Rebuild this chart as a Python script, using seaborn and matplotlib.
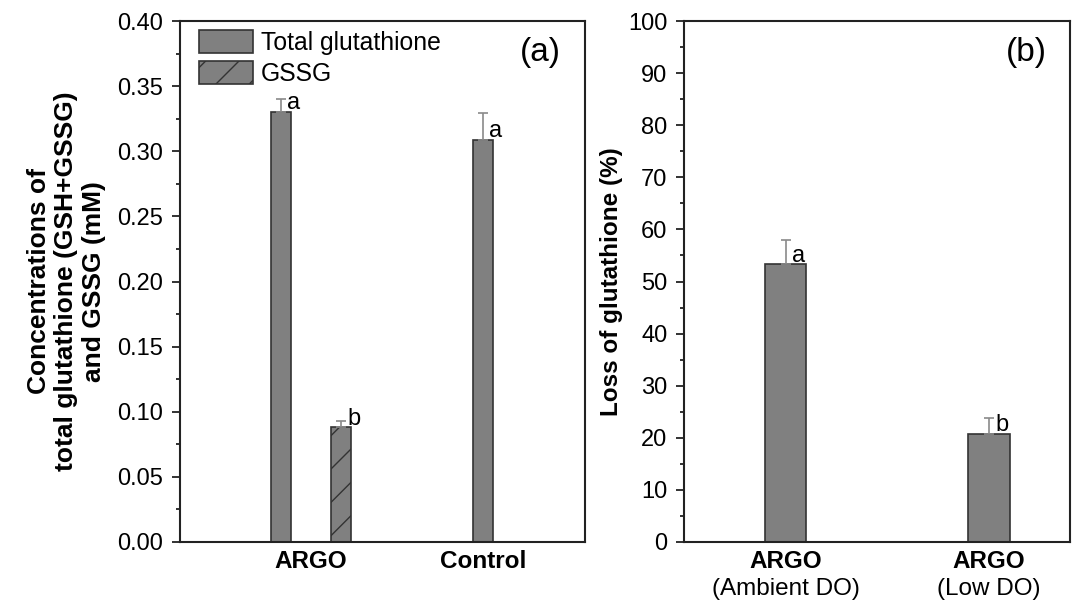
import numpy as np
import pandas as pd
import matplotlib
matplotlib.use("Agg")
import matplotlib.pyplot as plt
import matplotlib.patches as mpatches
import matplotlib.transforms as mtransforms
from matplotlib.ticker import MultipleLocator
import seaborn as sns

# ---------------- data ----------------
groups_a = ["ARGO", "Control"]
series_a = ["Total glutathione", "GSSG"]
total_a = [0.330, 0.309]
total_err_a = [0.010, 0.020]
gssg_groups_a = ["ARGO"]
gssg_a = [0.088]
gssg_err_a = [0.005]
letters_total_a = ["a", "a"]
letters_gssg_a = ["b"]

groups_b = ["ARGO\n(Ambient DO)", "ARGO\n(Low DO)"]
loss_b = [53.3, 20.8]
loss_err_b = [4.6, 3.0]
letters_b = ["a", "b"]

# ---------------- style ----------------
sns.set_style("ticks")
plt.rcParams["font.family"] = ["Liberation Sans", "DejaVu Sans"]
plt.rcParams["hatch.linewidth"] = 1.0
for key in ("text.color", "axes.labelcolor", "xtick.labelcolor", "ytick.labelcolor"):
    plt.rcParams[key] = "black"

BAR = "#808080"
EDGE = "#333333"
ERR = "#8a8a8a"
SPINE = "#222222"

fig = plt.figure(figsize=(10.79, 6.04), dpi=100)
axA = fig.add_axes([180 / 1079, 62 / 604, 405 / 1079, 521 / 604])
axB = fig.add_axes([684 / 1079, 62 / 604, 386 / 1079, 521 / 604])

# ---------------- panel (a) ----------------
dfA = pd.DataFrame({
    "group": groups_a + gssg_groups_a,
    "series": [series_a[0]] * len(total_a) + [series_a[1]] * len(gssg_a),
    "value": total_a + gssg_a,
})
err_lookup = {}
letter_lookup = {}
for g, e, l in zip(groups_a, total_err_a, letters_total_a):
    err_lookup[(g, series_a[0])] = e
    letter_lookup[(g, series_a[0])] = l
for g, e, l in zip(gssg_groups_a, gssg_err_a, letters_gssg_a):
    err_lookup[(g, series_a[1])] = e
    letter_lookup[(g, series_a[1])] = l

sns.barplot(data=dfA, x="group", y="value", hue="series", order=groups_a,
            hue_order=series_a, dodge=True, width=0.697, gap=0.667,
            palette=[BAR, BAR], saturation=1, edgecolor=EDGE, linewidth=1.2,
            errorbar=None, legend=False, ax=axA)

bars = []
for k, s in enumerate(series_a):
    for p in axA.containers[k]:
        cx = p.get_x() + p.get_width() / 2
        gi = int(round(cx))
        bars.append((p, groups_a[gi], s, gi))
        if s == "GSSG":
            p.set_hatch("/")

# center lone bars inside their group
for gi, g in enumerate(groups_a):
    members = [b for b in bars if b[3] == gi]
    if len(members) == 1:
        p = members[0][0]
        p.set_x(gi - p.get_width() / 2)

for p, g, s, gi in bars:
    cx = p.get_x() + p.get_width() / 2
    h = p.get_height()
    e = err_lookup[(g, s)]
    axA.errorbar(cx, h, yerr=[[0], [e]], fmt="none", ecolor=ERR,
                 elinewidth=1.2, capsize=3.5, capthick=1.2, zorder=1)
    axA.annotate(letter_lookup[(g, s)], (cx, h), xytext=(4.5, 2),
                 textcoords="offset points", ha="left", va="baseline",
                 fontsize=17)

axA.set_ylim(0, 0.40)
axA.set_xlim(-0.762, 1.593)
axA.yaxis.set_major_locator(MultipleLocator(0.05))
axA.yaxis.set_minor_locator(MultipleLocator(0.025))
axA.yaxis.set_major_formatter(matplotlib.ticker.FormatStrFormatter("%.2f"))
axA.set_xlabel("")
axA.set_ylabel("Concentrations of\ntotal glutathione (GSH+GSSG)\nand GSSG (mM)",
               fontsize=19, fontweight="bold", linespacing=1.2)
axA.yaxis.set_label_coords(-0.182, 0.5)
axA.set_xticks(range(len(groups_a)))
axA.set_xticklabels(groups_a, fontsize=17.5, fontweight="bold")
axA.text(0.94, 0.94, "(a)", transform=axA.transAxes, ha="right", va="center",
         fontsize=24)

handles = [mpatches.Patch(facecolor=BAR, edgecolor=EDGE, linewidth=1.2, label=series_a[0]),
           mpatches.Patch(facecolor=BAR, edgecolor=EDGE, linewidth=1.2, hatch="/", label=series_a[1])]
axA.legend(handles=handles, loc="upper left", bbox_to_anchor=(0.047, 0.983),
           frameon=False, fontsize=17.8, handlelength=2.2, handleheight=1.05,
           handletextpad=0.3, labelspacing=0.25, borderpad=0, borderaxespad=0)

# ---------------- panel (b) ----------------
dfB = pd.DataFrame({"group": groups_b, "value": loss_b})
sns.barplot(data=dfB, x="group", y="value", order=groups_b, width=0.206,
            color=BAR, saturation=1, edgecolor=EDGE, linewidth=1.2,
            errorbar=None, ax=axB)
for p, e, l in zip(axB.containers[0], loss_err_b, letters_b):
    cx = p.get_x() + p.get_width() / 2
    h = p.get_height()
    axB.errorbar(cx, h, yerr=[[0], [e]], fmt="none", ecolor=ERR,
                 elinewidth=1.2, capsize=3.5, capthick=1.2, zorder=1)
    axB.annotate(l, (cx, h), xytext=(4.5, 2), textcoords="offset points",
                 ha="left", va="baseline", fontsize=17)

axB.set_ylim(0, 100)
axB.set_xlim(-0.499, 1.398)
axB.yaxis.set_major_locator(MultipleLocator(10))
axB.yaxis.set_minor_locator(MultipleLocator(5))
axB.set_xlabel("")
axB.set_ylabel("Loss of glutathione (%)", fontsize=17.5, fontweight="bold")
axB.yaxis.set_label_coords(-0.158, 0.5)
axB.set_xticks(range(len(groups_b)))
axB.set_xticklabels([g.split("\n")[0] for g in groups_b], fontsize=17.5,
                    fontweight="bold")
trans = mtransforms.blended_transform_factory(axB.transData, axB.transAxes)
for i, g in enumerate(groups_b):
    axB.text(i, -0.09, g.split("\n")[1], transform=trans, ha="center",
             va="center", fontsize=17.5)
axB.text(0.94, 0.94, "(b)", transform=axB.transAxes, ha="right", va="center",
         fontsize=24)

# ---------------- common axis styling ----------------
for ax in (axA, axB):
    for sp in ax.spines.values():
        sp.set_visible(True)
        sp.set_linewidth(1.5)
        sp.set_color(SPINE)
    ax.tick_params(axis="y", which="major", direction="out", length=6,
                   width=1.3, color=SPINE, labelsize=17, pad=6,
                   labelcolor="black")
    ax.tick_params(axis="y", which="minor", direction="out", length=3,
                   width=1.3, color=SPINE)
    ax.tick_params(axis="x", which="both", length=0, pad=6, labelcolor="black")
    ax.set_facecolor("white")

fig.savefig("out.png", dpi=100, facecolor="white")
